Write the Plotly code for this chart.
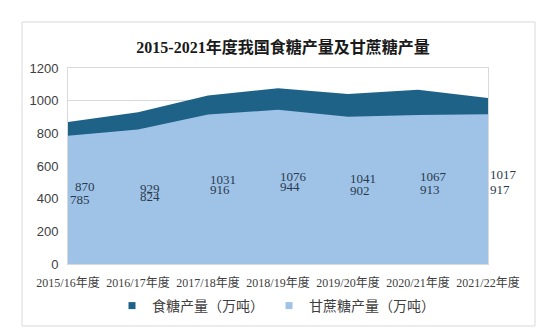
import plotly.graph_objects as go

categories = ["2015/16年度", "2016/17年度", "2017/18年度", "2018/19年度",
              "2019/20年度", "2020/21年度", "2021/22年度"]
sugar_total = [870, 929, 1031, 1076, 1041, 1067, 1017]
cane_sugar = [785, 824, 916, 944, 902, 913, 917]
y_ticks = [0, 200, 400, 600, 800, 1000, 1200]
title_text = "2015-2021年度我国食糖产量及甘蔗糖产量"
name_total = "食糖产量（万吨）"
name_cane = "甘蔗糖产量（万吨）"

DARK = "#1f6287"
LIGHT = "#9fc3e7"
SERIF = "Liberation Serif, Noto Sans CJK SC, serif"
SANS = "Liberation Sans, Noto Sans CJK SC, sans-serif"

fig = go.Figure()
# filled areas (overlapping, not stacked)
fig.add_trace(go.Scatter(x=categories, y=sugar_total, name=name_total, mode="lines",
                         line=dict(width=0, color=DARK), fill="tozeroy", fillcolor=DARK,
                         showlegend=False))
fig.add_trace(go.Scatter(x=categories, y=cane_sugar, name=name_cane, mode="lines",
                         line=dict(width=0, color=LIGHT), fill="tozeroy", fillcolor=LIGHT,
                         showlegend=False))
# legend entries with small square swatches
fig.add_trace(go.Scatter(x=[None], y=[None], name=name_total, mode="markers",
                         marker=dict(symbol="square", size=7, color=DARK)))
fig.add_trace(go.Scatter(x=[None], y=[None], name=name_cane, mode="markers",
                         marker=dict(symbol="square", size=7, color=LIGHT)))

# data labels at the middle of each area, as in the source chart
annotations = []
last = len(categories) - 1
for i, (cat, a, b) in enumerate(zip(categories, sugar_total, cane_sugar)):
    for j, v in enumerate((a, b)):
        shift = 6 if (j == 0 and i in (0, last)) else 0
        xs = 5 if (j == 0 and i == 0) else 0
        annotations.append(dict(x=cat, y=v / 2, text=str(v), showarrow=False,
                                xanchor="left", yanchor="middle", yshift=shift, xshift=xs,
                                font=dict(family=SERIF, size=13, color="#2a3a4e")))

W0, W1, H0, H1 = 68, 488, 68, 264
pw, ph = W1 - W0, H1 - H0
fig.add_shape(type="rect", xref="paper", yref="paper",
              x0=(22 - W0) / pw, x1=(535 - W0) / pw,
              y0=(H1 - 326) / ph, y1=(H1 - 22) / ph,
              line=dict(color="#d9d9d9", width=1), fillcolor="rgba(0,0,0,0)", layer="below")

fig.update_layout(
    width=550, height=330,
    margin=dict(l=W0, r=550 - W1, t=H0, b=330 - H1),
    paper_bgcolor="white", plot_bgcolor="white",
    title=dict(text="<b>" + title_text + "</b>", x=(283 - W0) / pw, xref="paper",
               xanchor="center", y=1 - 47 / 330, yanchor="middle",
               font=dict(family=SERIF, size=16, color="#1a1a1a")),
    showlegend=True,
    legend=dict(orientation="h", x=(276 - W0) / pw, xanchor="center",
                yref="container", y=1 - 306 / 330, yanchor="middle",
                font=dict(family=SANS, size=14, color="#404040"), traceorder="normal",
                itemwidth=30),
    annotations=annotations,
    xaxis=dict(type="category", range=[0, last], showgrid=False, automargin=False,
               showline=True, linecolor="#d9d9d9", mirror=True, ticks="",
               ticklabelstandoff=8,
               tickfont=dict(family=SERIF, size=12, color="#404040")),
    yaxis=dict(range=[0, 1200], tickvals=y_ticks, showgrid=True, gridcolor="#d9d9d9",
               automargin=False,
               showline=True, linecolor="#d9d9d9", mirror=True, ticks="", zeroline=False,
               ticklabelstandoff=6,
               tickfont=dict(family=SANS, size=13, color="#404040")),
)

fig.write_html("out.html")
